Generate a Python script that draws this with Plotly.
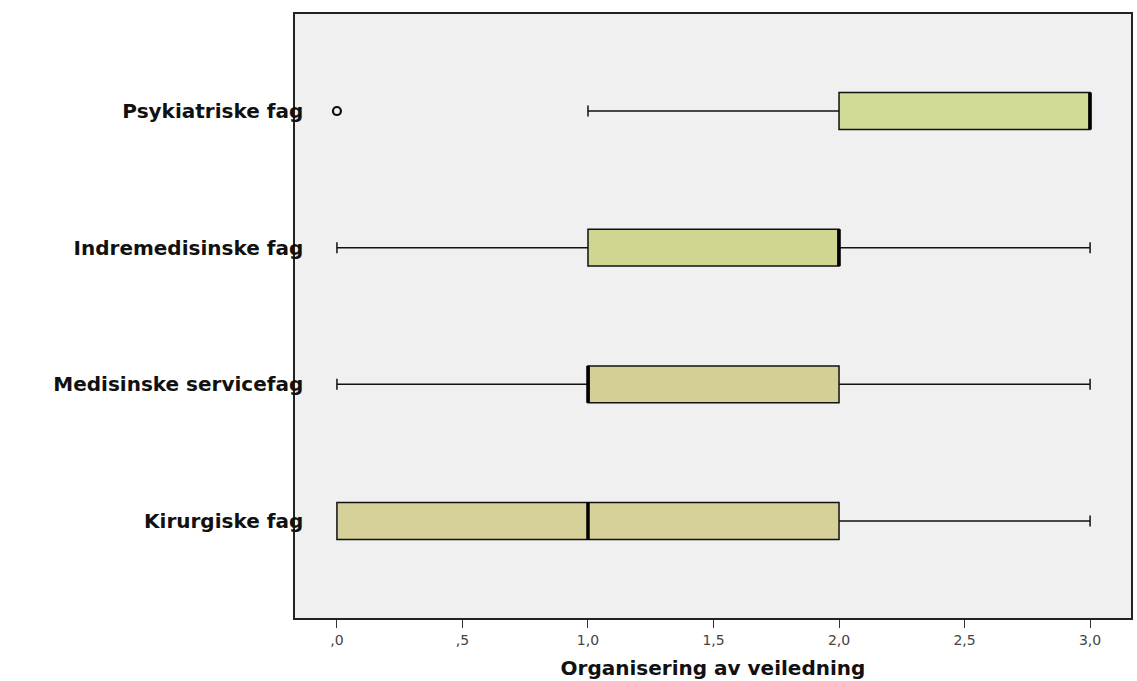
import plotly.graph_objects as go

categories = ["Kirurgiske fag", "Medisinske servicefag", "Indremedisinske fag", "Psykiatriske fag"]
q1 = [0, 1, 1, 2]
median = [1, 1, 2, 3]
q3 = [2, 2, 2, 3]
lower_fence = [0, 0, 0, 1]
upper_fence = [3, 3, 3, 3]
outlier_cat = ["Psykiatriske fag"]
outlier_val = [0]
tick_vals = [0, 0.5, 1, 1.5, 2, 2.5, 3]
tick_text = [",0", ",5", "1,0", "1,5", "2,0", "2,5", "3,0"]
box_colors = ["#d6d199", "#d3cf95", "#d0d68f", "#d2db95"]

fig = go.Figure()
for i, c in enumerate(categories):
    fig.add_trace(go.Box(
        y=[c], q1=[q1[i]], median=[median[i]], q3=[q3[i]],
        lowerfence=[lower_fence[i]], upperfence=[upper_fence[i]],
        orientation="h", fillcolor=box_colors[i],
        line=dict(color="#111111", width=1.5),
        whiskerwidth=0.3, width=0.27, boxpoints=False,
        showlegend=False, hoverinfo="skip"))
    # thick median line
    fig.add_shape(type="line", xref="x", yref="y",
                  x0=median[i], x1=median[i], y0=i - 0.135, y1=i + 0.135,
                  line=dict(color="#000000", width=3.5))

fig.add_trace(go.Scatter(
    x=outlier_val, y=outlier_cat, mode="markers",
    marker=dict(symbol="circle-open", size=8, color="#111111", line=dict(width=2.2)),
    showlegend=False, hoverinfo="skip"))

fig.update_layout(
    width=1137, height=681,
    margin=dict(l=295, r=4, t=14, b=63),
    paper_bgcolor="white", plot_bgcolor="#f0f0f0",
    font=dict(family="DejaVu Sans", color="#111111"),
)
fig.update_xaxes(
    range=[-0.167, 3.163], tickvals=tick_vals, ticktext=tick_text,
    ticks="outside", ticklen=8, tickwidth=1.2, tickcolor="#333333",
    tickfont=dict(size=14, color="#444444", family="DejaVu Sans"),
    showgrid=False, zeroline=False,
    showline=True, linecolor="#222222", linewidth=1.5, mirror=True,
    title=dict(text="Organisering av veiledning", standoff=14,
               font=dict(size=20, family="DejaVu Sans", color="#111111", weight="bold")),
)
fig.update_yaxes(
    type="category", categoryorder="array", categoryarray=categories,
    range=[-0.71, 3.71], ticks="", showgrid=False, zeroline=False,
    showline=True, linecolor="#222222", linewidth=1.5, mirror=True,
    tickfont=dict(size=20, family="DejaVu Sans", color="#111111", weight="bold"),
    ticklabelstandoff=-14,
)
fig.write_html("out.html", config={"displayModeBar": False},
               post_script="document.body.style.margin='0';")
